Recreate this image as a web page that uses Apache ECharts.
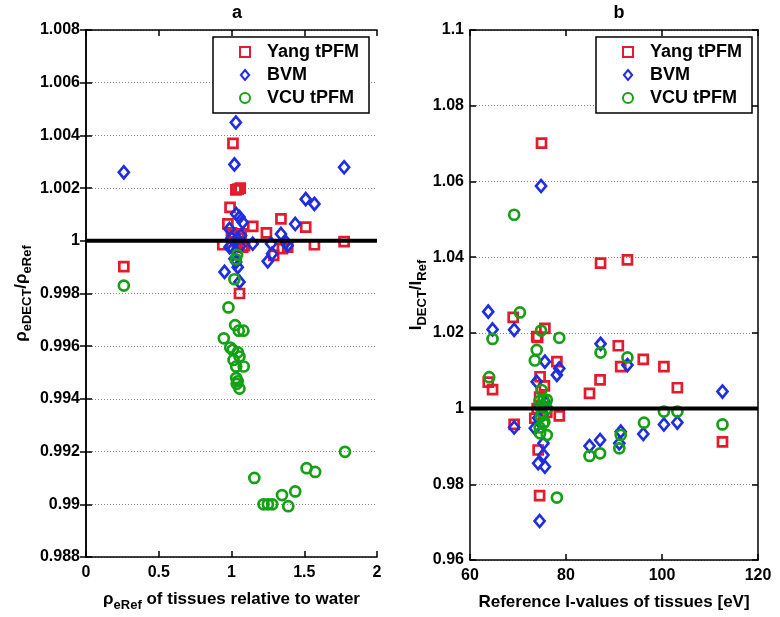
<!DOCTYPE html>
<html><head><meta charset="utf-8">
<script src="https://cdn.jsdelivr.net/npm/echarts@6/dist/echarts.min.js"></script>
<style>html,body{margin:0;padding:0;background:#fff}#c{width:780px;height:617px}</style>
</head><body><div id="c"></div>
<script>
// ---- data (panel a: relative electron density) ----
const seriesNames = ['Yang tPFM', 'BVM', 'VCU tPFM'];
const yangRho = [[0.26,0.99902],[1.01,1.0037],[1.03,1.00193],[1.045,1.00196],[1.06,1.0020],[0.99,1.00127],[0.975,1.00064],[1.146,1.00055],[1.34,1.00083],[1.24,1.0003],[1.51,1.00052],[1.57,0.99985],[0.94,0.99985],[1.077,0.99976],[1.35,0.9997],[1.386,0.99976],[1.29,0.99945],[1.055,0.998],[1.774,0.99997],[1.01,1.0002],[1.066,1.00026],[1.09,0.99982],[1.02,1.0002],[1.04,0.9999],[1.0,1.0003],[1.05,1.0001]];
const bvmRho = [[0.26,1.0026],[1.03,1.00449],[1.02,1.0029],[1.51,1.00158],[1.57,1.0014],[1.032,1.00102],[1.055,1.0009],[1.077,1.0007],[1.438,1.00064],[0.986,1.00045],[1.34,1.00026],[1.146,0.99989],[1.272,0.99989],[1.374,0.99995],[1.386,0.99982],[1.279,0.99951],[1.249,0.99922],[0.952,0.99882],[1.055,0.99844],[1.032,0.9992],[1.043,0.999],[1.774,1.00279],[1.066,1.0002],[1.04,1.00008],[0.986,0.99976],[1.02,0.99932],[1.0,1.0001],[1.06,0.9998],[1.01,0.9997]];
const vcuRho = [[0.26,0.9983],[1.039,0.99947],[1.02,0.99854],[1.03,0.9993],[0.979,0.99747],[1.025,0.9968],[1.05,0.99659],[1.082,0.99659],[0.947,0.9963],[0.991,0.99595],[1.009,0.99586],[1.043,0.99577],[1.055,0.99561],[1.014,0.99548],[1.084,0.99523],[1.032,0.99523],[1.032,0.99479],[1.043,0.99467],[1.036,0.99457],[1.055,0.99439],[1.157,0.991],[1.22,0.990],[1.25,0.990],[1.28,0.990],[1.347,0.99035],[1.39,0.98993],[1.438,0.99049],[1.516,0.99137],[1.575,0.99123],[1.78,0.99199]];
// ---- data (panel b: I-values) ----
const yangI = [[74.9,1.0701],[87.2,1.0384],[92.8,1.0393],[75.6,1.0212],[73.9,1.019],[69.0,1.0241],[74.1,1.0188],[90.9,1.0166],[96.1,1.013],[78.1,1.0124],[91.4,1.0111],[100.4,1.0111],[103.2,1.0055],[87.1,1.0076],[84.9,1.004],[74.6,1.0084],[63.8,1.007],[64.7,1.005],[78.6,0.99805],[73.5,0.99744],[74.2,0.98906],[69.2,0.9958],[74.5,0.977],[112.6,0.9912],[75,1.0005],[74,1.0],[76,0.999],[74.5,1.003],[75.5,1.006]];
const bvmI = [[74.8,1.0588],[63.8,1.0256],[64.7,1.0209],[69.2,1.0208],[87.2,1.0171],[75.6,1.0124],[78.6,1.0106],[78.1,1.0089],[92.8,1.0115],[73.9,1.0071],[112.6,1.0045],[73.5,0.9948],[75.3,0.99083],[75.3,0.98774],[74.2,0.98555],[75.6,0.98465],[96.1,0.99329],[91.4,0.9939],[91.1,0.99083],[87.1,0.9917],[84.9,0.99012],[100.4,0.9958],[103.2,0.9963],[69.2,0.995],[74.5,0.9703],[74.5,1.0003],[75.2,0.9985],[75.8,1.0015],[74.2,0.9975]];
const vcuI = [[69.2,1.0512],[70.4,1.0254],[74.8,1.0206],[78.6,1.0187],[64.7,1.0184],[87.2,1.0148],[92.8,1.0135],[73.9,1.0155],[73.5,1.0127],[64.0,1.0083],[96.25,0.99628],[91.4,0.99302],[91.1,0.98951],[87.1,0.98819],[84.9,0.98748],[100.4,0.9992],[103.2,0.9992],[112.6,0.9958],[78.1,0.9765],[74.6,0.99347],[74.9,1.0049],[75.3,1.0023],[76.0,1.0023],[75.3,0.9961],[74.5,1.002],[75,1.0008],[76,1.0],[75,0.999],[74.8,0.998],[75.5,0.9965],[74.5,0.995],[76,0.993]];
const refValue = 1;
const xRangeA = [0, 2], yRangeA = [0.988, 1.008];
const xRangeB = [60, 120], yRangeB = [0.96, 1.1];

const FONT = 'Liberation Sans, Arial, sans-serif';
const RED = '#e31b2d', BLUE = '#1f2fe0', GREEN = '#15a015';
const fmt = v => String(parseFloat(Number(v).toFixed(4)));
const lbl = {fontFamily: FONT, fontWeight: 'bold', fontSize: 16, color: '#000'};
const axLine = {show: true, lineStyle: {color: '#000', width: 1.5}};
const tick = {show: true, inside: true, length: 6, lineStyle: {color: '#000', width: 1.5}};

function mainX(gi, rng, itv, name) {
  return {gridIndex: gi, type: 'value', min: rng[0], max: rng[1], interval: itv,
    axisLine: axLine, axisTick: tick, splitLine: {show: false},
    axisLabel: Object.assign({formatter: fmt, margin: 8}, lbl),
    name: name, nameLocation: 'middle', nameGap: 29,
    nameTextStyle: {fontFamily: FONT, fontWeight: 'bold', fontSize: 17, color: '#000',
      rich: {m: {fontFamily: FONT, fontWeight: 'bold', fontSize: 17, color: '#000', lineHeight: 26, verticalAlign: 'middle'},
             s: {fontFamily: FONT, fontWeight: 'bold', fontSize: 13, color: '#000', lineHeight: 26, verticalAlign: 'bottom'}}}};
}
function topX(gi, rng, itv) {
  return {gridIndex: gi, type: 'value', position: 'top', min: rng[0], max: rng[1], interval: itv,
    axisLine: axLine, axisTick: tick, axisLabel: {show: false}, splitLine: {show: false}};
}
function mainY(gi, rng, itv, name, gap) {
  return {gridIndex: gi, type: 'value', min: rng[0], max: rng[1], interval: itv,
    axisLine: axLine, axisTick: tick,
    splitLine: {show: true, lineStyle: {color: '#888', type: [1, 2], width: 1}},
    axisLabel: Object.assign({formatter: fmt, margin: 6}, lbl),
    name: name, nameLocation: 'middle', nameRotate: 90, nameGap: gap,
    nameTextStyle: {rich: {m: {fontFamily: FONT, fontWeight: 'bold', fontSize: 17, color: '#000', lineHeight: 26, verticalAlign: 'middle'},
             s: {fontFamily: FONT, fontWeight: 'bold', fontSize: 13, color: '#000', lineHeight: 26, verticalAlign: 'bottom'}}}};
}
function rightY(gi, rng, itv) {
  return {gridIndex: gi, type: 'value', position: 'right', min: rng[0], max: rng[1], interval: itv,
    axisLine: axLine, axisTick: tick, axisLabel: {show: false}, splitLine: {show: false}};
}
function scat(name, data, xi, yi, sym, color, size) {
  return {name: name, type: 'scatter', xAxisIndex: xi, yAxisIndex: yi, data: data,
    symbol: sym, symbolSize: size, z: 3,
    itemStyle: {color: 'rgba(255,255,255,0)', borderColor: color, borderWidth: 2.7, opacity: 1},
    emphasis: {disabled: true}};
}
function refLine(xi, yi, rng) {
  return {type: 'line', xAxisIndex: xi, yAxisIndex: yi, data: [[rng[0], refValue], [rng[1], refValue]],
    symbol: 'none', lineStyle: {color: '#000', width: 4}, z: 5, silent: true};
}
const diamond = 'path://M0,-6 L5,0 L0,6 L-5,0 Z';
const legendCommon = {orient: 'vertical', itemWidth: 10, itemHeight: 10, itemGap: 5,
  backgroundColor: '#fff', borderColor: '#000', borderWidth: 1.5,
  textStyle: {fontFamily: FONT, fontWeight: 'bold', fontSize: 18, color: '#000', padding: [0, 0, 0, 12]},
  data: seriesNames};

const chart = echarts.init(document.getElementById('c'), null, {renderer: 'canvas'});
chart.setOption({
  animation: false,
  backgroundColor: '#fff',
  title: [
    {text: 'a', left: 232, top: -1, textAlign: 'center', textStyle: {fontFamily: FONT, fontWeight: 'bold', fontSize: 18, color: '#000'}},
    {text: 'b', left: 614, top: -1, textAlign: 'center', textStyle: {fontFamily: FONT, fontWeight: 'bold', fontSize: 18, color: '#000'}}
  ],
  grid: [
    {left: 86, top: 30, width: 291, height: 530},
    {left: 470, top: 30, width: 288, height: 530}
  ],
  xAxis: [
    mainX(0, xRangeA, 0.5, '{m|ρ}{s|eRef}{m| of tissues relative to water}'),
    mainX(1, xRangeB, 20, '{m|Reference I-values of tissues [eV]}'),
    topX(0, xRangeA, 0.5), topX(1, xRangeB, 20)
  ],
  yAxis: [
    mainY(0, yRangeA, 0.002, '{m|ρ}{s|eDECT}{m|/ρ}{s|eRef}', 52),
    mainY(1, yRangeB, 0.02, '{m|I}{s|DECT}{m|/I}{s|Ref}', 33),
    rightY(0, yRangeA, 0.002), rightY(1, yRangeB, 0.02)
  ],
  legend: [
    Object.assign({left: 213, top: 37, padding: [6, 10, 6, 26]}, legendCommon),
    Object.assign({left: 596, top: 37, padding: [6, 10, 6, 26]}, legendCommon)
  ],
  series: [
    scat('Yang tPFM', yangRho, 0, 0, 'rect', RED, 9),
    scat('BVM', bvmRho, 0, 0, diamond, BLUE, [10, 12]),
    scat('VCU tPFM', vcuRho, 0, 0, 'circle', GREEN, 10),
    scat('Yang tPFM', yangI, 1, 1, 'rect', RED, 9),
    scat('BVM', bvmI, 1, 1, diamond, BLUE, [10, 12]),
    scat('VCU tPFM', vcuI, 1, 1, 'circle', GREEN, 10),
    refLine(0, 0, xRangeA), refLine(1, 1, xRangeB)
  ]
});
</script></body></html>
